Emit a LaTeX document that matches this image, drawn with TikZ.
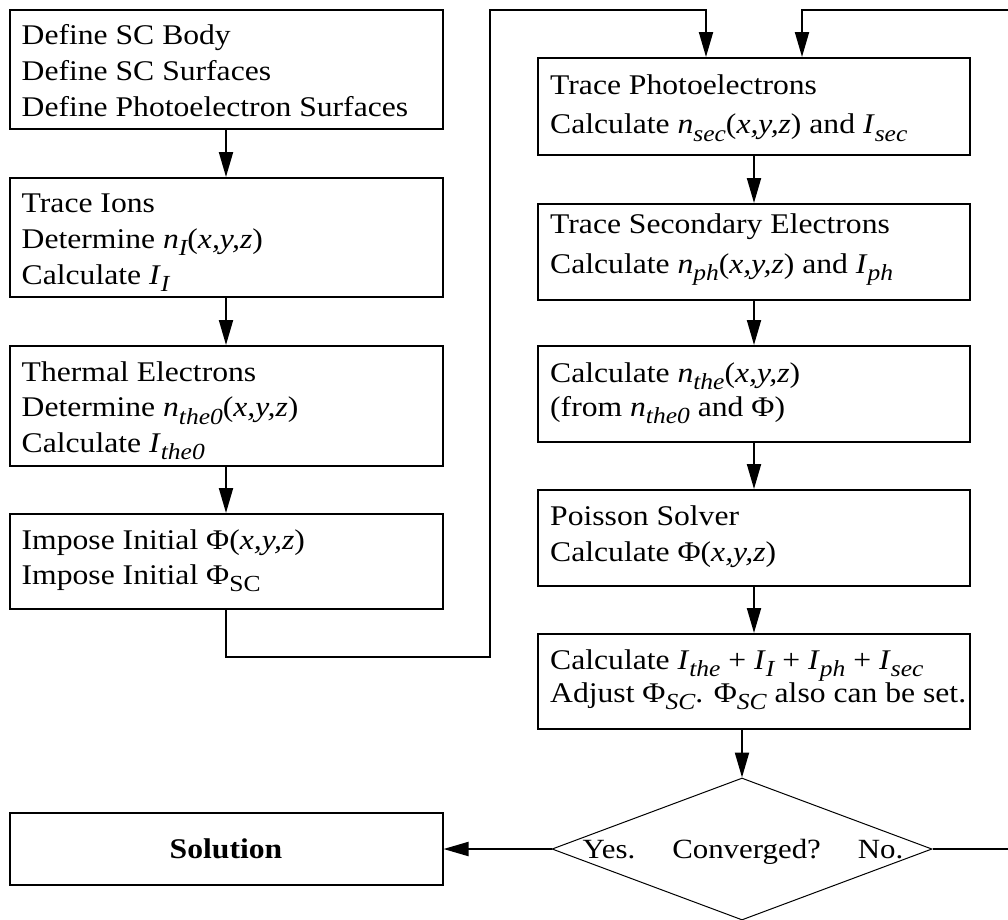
\documentclass[tikz,border=0pt]{standalone}
\usepackage{fontspec}
\setmainfont{Liberation Serif}[FakeStretch=1.11]
\usetikzlibrary{arrows.meta,shapes.geometric,calc}
\newcommand\sbs[1]{\raisebox{-7.5pt}{\fontsize{23}{23}\selectfont\itshape #1}}
\newcommand\sbu[1]{\raisebox{-7.5pt}{\fontsize{23}{23}\selectfont #1}}
\newcommand\boxlines[2]{\vtop{\baselineskip=#1\lineskiplimit=-100pt\lineskip=0pt\relax #2}}
\tikzset{
  box/.style={draw, line width=2pt, inner sep=0pt},
  txt/.style={anchor=base west, inner sep=0pt, font=\fontsize{28.5}{36}\selectfont},
  arr/.style={line width=2pt, -{Triangle[length=25pt,width=14pt]}},
  ln/.style={line width=2pt},
}
\begin{document}
\begin{tikzpicture}[x=1pt,y=-1pt]
\useasboundingbox (0,0) rectangle (1008,919);
\clip (0,0) rectangle (1008,919);
% left column
\node[box, minimum width=433pt, minimum height=119pt] (b1) at (226,69.5) {};
\node[box, minimum width=433pt, minimum height=119pt] (b2) at (226,237.5) {};
\node[box, minimum width=433pt, minimum height=120pt] (b3) at (226,406) {};
\node[box, minimum width=433pt, minimum height=95pt] (b4) at (226,561.5) {};
\node[box, minimum width=433pt, minimum height=72pt, font=\fontsize{28.5}{36}\selectfont\bfseries] (sol) at (226,849) {Solution};
% right column
\node[box, minimum width=432pt, minimum height=97pt] (b5) at (754,106.5) {};
\node[box, minimum width=432pt, minimum height=96pt] (b6) at (754,252) {};
\node[box, minimum width=432pt, minimum height=96pt] (b7) at (754,394) {};
\node[box, minimum width=432pt, minimum height=96pt] (b8) at (754,538) {};
\node[box, minimum width=432pt, minimum height=95pt] (b9) at (754,681.5) {};
\node[draw, diamond, line width=1pt, minimum width=380pt, minimum height=142pt, inner sep=0pt] (dia) at (742,849) {};
% texts
\node[txt] (t1) at ($(b1.north west)+(13,35)$) {\boxlines{36pt}{\hbox{Define SC Body}\hbox{Define SC Surfaces}\hbox{Define Photoelectron Surfaces}}};
\node[txt] (t2) at ($(b2.north west)+(13,35)$) {\boxlines{36pt}{\hbox{Trace Ions}\hbox{Determine \textit{n}\sbs{I}(\textit{x,y,z})}\hbox{Calculate \textit{I}\sbs{I}}}};
\node[txt] (t3) at ($(b3.north west)+(13,36)$) {\boxlines{35.5pt}{\hbox{Thermal Electrons}\hbox{Determine \textit{n}\sbs{the0}(\textit{x,y,z})}\hbox{Calculate \textit{I}\sbs{the0}}}};
\node[txt] (t4) at ($(b4.north west)+(13,36)$) {\boxlines{35pt}{\hbox{Impose Initial Φ(\textit{x,y,z})}\hbox{Impose Initial Φ\sbu{SC}}}};
\node[txt] (t5) at ($(b5.north west)+(13,37)$) {\boxlines{39.5pt}{\hbox{Trace Photoelectrons}\hbox{Calculate \textit{n}\sbs{sec}(\textit{x,y,z}) and \textit{I}\sbs{sec}}}};
\node[txt] (t6) at ($(b6.north west)+(13,30)$) {\boxlines{40pt}{\hbox{Trace Secondary Electrons}\hbox{Calculate \textit{n}\sbs{ph}(\textit{x,y,z}) and \textit{I}\sbs{ph}}}};
\node[txt] (t7) at ($(b7.north west)+(13,37)$) {\boxlines{34pt}{\hbox{Calculate \textit{n}\sbs{the}(\textit{x,y,z})}\hbox{(from \textit{n}\sbs{the0} and Φ)}}};
\node[txt] (t8) at ($(b8.north west)+(13,36)$) {\boxlines{36pt}{\hbox{Poisson Solver}\hbox{Calculate Φ(\textit{x,y,z})}}};
\node[txt] (t9) at ($(b9.north west)+(13,36)$) {\boxlines{33pt}{\hbox{Calculate \textit{I}\sbs{the} + \textit{I}\sbs{I} + \textit{I}\sbs{ph} + \textit{I}\sbs{sec}}\hbox{Adjust Φ\sbs{SC}. Φ\sbs{SC} also can be set.}}};
\node[anchor=base, inner sep=0pt, font=\fontsize{27.8}{33}\selectfont] (dt) at ($(dia.center)+(1,9)$) {Yes.\hspace{37pt}Converged?\hspace{37pt}No.};
% connectors
\draw[arr] (b1) -- (b2);
\draw[arr] (b2) -- (b3);
\draw[arr] (b3) -- (b4);
\coordinate (ca) at (490,657);
\coordinate (cb) at (490,10);
\draw[arr] (b4.south) |- (ca) -- (cb) -| ($(b5.north)+(-48,0)$);
\draw[arr] (b5) -- (b6);
\draw[arr] (b6) -- (b7);
\draw[arr] (b7) -- (b8);
\draw[arr] (b8) -- (b9);
\draw[arr] (b9.south -| dia.north) -- (dia.north);
\draw[arr] (dia.west) -- (sol.east);
\coordinate (cr) at (1015,849);
\coordinate (ct) at (1015,10);
\draw[arr] (dia.east) -- (cr) -- (ct) -| ($(b5.north)+(48,0)$);
\end{tikzpicture}
\end{document}
